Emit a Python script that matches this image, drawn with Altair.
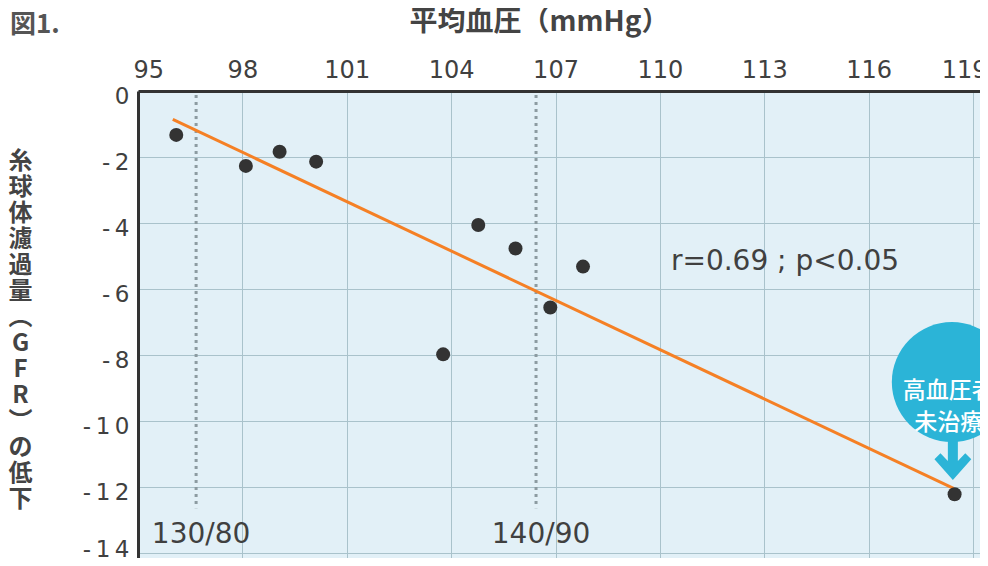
import altair as alt
import pandas as pd

# --- data ---
map_x = [96.1, 98.1, 99.07, 100.12, 104.78, 105.85, 107.79, 106.85, 103.77, 118.47]
gfr_drop = [-1.33, -2.27, -1.84, -2.14, -4.06, -4.77, -5.32, -6.56, -7.98, -12.22]
fit_x = [96.0, 118.44]
fit_y = [-0.86, -12.04]
ref_x = [96.67, 106.44]
ref_labels = ["130/80", "140/90"]
ref_top = [-0.12, -0.12]
ref_bottom = [-12.64, -12.64]
ref_label_y = [-13.45, -13.45]
stat_text = ["r=0.69 ; p<0.05"]
stat_x = [110.23]
stat_y = [-5.18]
bubble_x = [118.39]
bubble_y = [-8.82]
bubble_text = ["高血圧者\n未治療"]
bubble_text_x = [118.30]
bubble_text_y = [-9.09]
arrow_x = [118.42]
arrow_y = [-11.21]
x_ticks = [95, 98, 101, 104, 107, 110, 113, 116, 119]
y_ticks = [0, -2, -4, -6, -8, -10, -12, -14]
y_title = ["糸", "球", "体", "濾", "過", "量", "︵", "G", "F", "R", "︶", "の", "低", "下"]

INK = "#404040"
CJK = "Noto Sans CJK JP"
NUM = "DejaVu Sans"

x_scale = alt.Scale(domain=[95, 119.2], nice=False, zero=False)
y_scale = alt.Scale(domain=[-14.15, 0], nice=False, zero=False)

x_axis = alt.Axis(
    orient="top", values=x_ticks, ticks=False, labelFontSize=24, labelFont=NUM,
    labelColor=INK, labelPadding=9, labelFlush=True, labelFlushOffset=5,
    labelOffset={"condition": {"test": "datum.value >= 119", "value": -9}, "value": 0},
    domainColor="#333333", domainWidth=3, grid=True, gridColor="#a9c2cb", gridWidth=1,
    title="平均血圧（mmHg）", titleFont=CJK, titleFontSize=28, titleFontWeight="bold",
    titleColor="#444444", titleX=401, titleY=-69, titleAlign="center", titleBaseline="middle",
)
y_axis = alt.Axis(
    orient="left", values=y_ticks, ticks=False, labelFontSize=23, labelFont=NUM,
    labelColor=INK, labelPadding=9, labelFlush=False,
    labelOffset={"condition": {"test": "datum.value <= -14", "value": -4}, "value": 5},
    labelExpr="join(split('' + datum.value, ''), '\u2009')",
    domainColor="#333333", domainWidth=3, grid=True, gridColor="#a9c2cb", gridWidth=1,
    title=y_title, titleFont=CJK, titleFontSize=24, titleFontWeight="bold",
    titleColor="#444444", titleAngle=0, titleX=-118, titleY=58, titleAlign="center",
    titleBaseline="top", titleLineHeight=26,
)

X = alt.X("x:Q", scale=x_scale, axis=x_axis)
Y = alt.Y("y:Q", scale=y_scale, axis=y_axis)

pts = pd.DataFrame({"x": map_x, "y": gfr_drop})
fit = pd.DataFrame({"x": fit_x, "y": fit_y})
refs = pd.DataFrame({"x": ref_x, "y": ref_top, "y2": ref_bottom, "ly": ref_label_y, "label": ref_labels})
stat = pd.DataFrame({"x": stat_x, "y": stat_y, "t": stat_text})
bub = pd.DataFrame({"x": bubble_x, "y": bubble_y})
bubt = pd.DataFrame({"x": bubble_text_x, "y": bubble_text_y, "t": bubble_text})
arr = pd.DataFrame({"x": arrow_x, "y": arrow_y})
fig = pd.DataFrame({"t": ["図1."]})

rules = alt.Chart(refs).mark_rule(color="#8c9ba1", strokeWidth=3, strokeDash=[3, 4]).encode(
    x=X, y=Y, y2="y2:Q")
rule_labels = alt.Chart(refs).mark_text(font=NUM, fontSize=28, color=INK, dx=5).encode(
    x=X, y=alt.Y("ly:Q", scale=y_scale, axis=y_axis), text="label:N")
line = alt.Chart(fit).mark_line(color="#f58025", strokeWidth=3).encode(x=X, y=Y)
dots = alt.Chart(pts).mark_circle(color="#333333", size=196, opacity=1).encode(x=X, y=Y)
stat_layer = alt.Chart(stat).mark_text(font=NUM, fontSize=28, color=INK, align="left", dx=3).encode(
    x=X, y=Y, text="t:N")
bubble = alt.Chart(bub).mark_point(filled=True, shape="circle", size=14400, color="#2bb4d7", opacity=1).encode(x=X, y=Y)
arrow_path = "M -0.25 -1 L 0.25 -1 L 0.25 0 L 0.62 -0.38 L 0.92 -0.08 L 0 0.95 L -0.92 -0.08 L -0.62 -0.38 L -0.25 0 Z"
arrow = alt.Chart(arr).mark_point(filled=True, shape=arrow_path, size=1600, color="#2bb4d7", opacity=1).encode(x=X, y=Y)
bubble_label = alt.Chart(bubt).mark_text(font=CJK, fontSize=23, fontWeight=500, color="white", lineBreak="\n",
                                         lineHeight=32, align="center", baseline="middle").encode(
    x=X, y=Y, text="t:N")
fig_label = alt.Chart(fig).mark_text(font=CJK, fontSize=26, fontWeight="bold", color="#555555",
                                     align="left", baseline="middle").encode(
    x=alt.value(-128), y=alt.value(-66), text="t:N")

chart = alt.layer(rules, rule_labels, line, dots, stat_layer, bubble, arrow, bubble_label, fig_label).properties(
    width=842, height=467,
    padding={"left": 130, "top": 83, "right": 0, "bottom": 0},
    autosize=alt.AutoSizeParams(type="none"),
    background="white",
).configure_view(fill="#e2f0f7", stroke="transparent")

chart.save("out.html", embed_options={"renderer": "svg", "actions": False})
